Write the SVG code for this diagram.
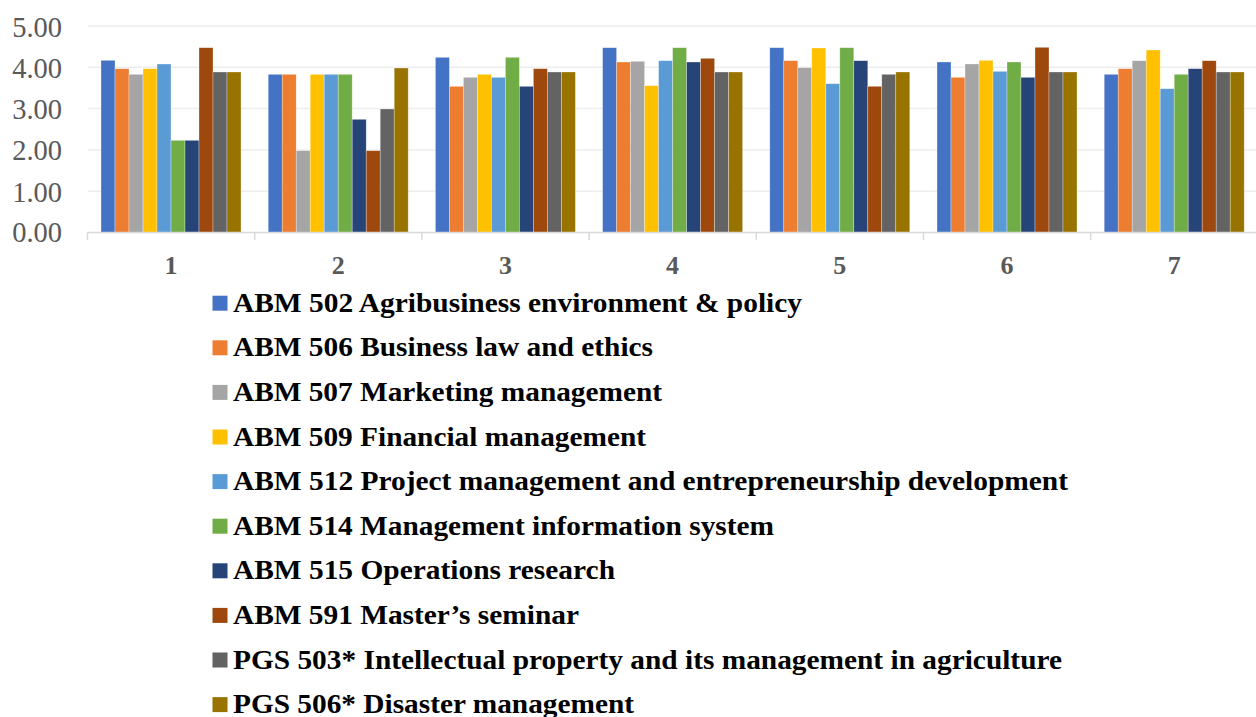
<svg xmlns="http://www.w3.org/2000/svg" width="1256" height="717" viewBox="0 0 1256 717">
<style>
.grid{stroke:#EDEDED;stroke-width:1.5;fill:none}
.axis{stroke:#D9D9D9;stroke-width:1.5;fill:none}
.yl{font-family:"Liberation Serif","Times New Roman",serif;font-size:28.5px;fill:#595959;text-anchor:end}
.xl{font-family:"Liberation Serif","Times New Roman",serif;font-size:26px;font-weight:bold;fill:#595959;text-anchor:middle}
.lg{font-family:"Liberation Serif","Times New Roman",serif;font-size:27px;font-weight:bold;fill:#000}
.bar rect{stroke:#ffffff;stroke-width:0.6;stroke-opacity:0.5}
</style>
<rect width="1256" height="717" fill="#ffffff"/>
<g id="gridlines">
<line class="grid" x1="88" y1="26" x2="1256" y2="26"/>
<line class="grid" x1="88" y1="67.3" x2="1256" y2="67.3"/>
<line class="grid" x1="88" y1="108.6" x2="1256" y2="108.6"/>
<line class="grid" x1="88" y1="149.9" x2="1256" y2="149.9"/>
<line class="grid" x1="88" y1="191.2" x2="1256" y2="191.2"/>
</g>
<g id="y-labels">
<text class="yl" x="62" y="36.5">5.00</text>
<text class="yl" x="62" y="77.8">4.00</text>
<text class="yl" x="62" y="119.1">3.00</text>
<text class="yl" x="62" y="160.4">2.00</text>
<text class="yl" x="62" y="201.7">1.00</text>
<text class="yl" x="62" y="242">0.00</text>
</g>
<g id="series-abm502" class="bar" fill="#4472C4">
<rect x="101" y="60.3" width="14" height="172.2"/>
<rect x="268.2" y="74.3" width="14" height="158.2"/>
<rect x="435.4" y="57.3" width="14" height="175.2"/>
<rect x="602.6" y="47.7" width="14" height="184.8"/>
<rect x="769.8" y="47.7" width="14" height="184.8"/>
<rect x="937" y="62" width="14" height="170.5"/>
<rect x="1104.2" y="74.3" width="14" height="158.2"/>
</g>
<g id="series-abm506" class="bar" fill="#ED7D31">
<rect x="115" y="68.7" width="14" height="163.8"/>
<rect x="282.2" y="74.3" width="14" height="158.2"/>
<rect x="449.4" y="86.3" width="14" height="146.2"/>
<rect x="616.6" y="62" width="14" height="170.5"/>
<rect x="783.8" y="60.7" width="14" height="171.8"/>
<rect x="951" y="77.3" width="14" height="155.2"/>
<rect x="1118.2" y="68.7" width="14" height="163.8"/>
</g>
<g id="series-abm507" class="bar" fill="#A5A5A5">
<rect x="129" y="74.3" width="14" height="158.2"/>
<rect x="296.2" y="150.7" width="14" height="81.8"/>
<rect x="463.4" y="77.3" width="14" height="155.2"/>
<rect x="630.6" y="61.3" width="14" height="171.2"/>
<rect x="797.8" y="67.7" width="14" height="164.8"/>
<rect x="965" y="64" width="14" height="168.5"/>
<rect x="1132.2" y="60.7" width="14" height="171.8"/>
</g>
<g id="series-abm509" class="bar" fill="#FFC000">
<rect x="143" y="68.7" width="14" height="163.8"/>
<rect x="310.2" y="74.3" width="14" height="158.2"/>
<rect x="477.4" y="74.3" width="14" height="158.2"/>
<rect x="644.6" y="85.7" width="14" height="146.8"/>
<rect x="811.8" y="48" width="14" height="184.5"/>
<rect x="979" y="60.3" width="14" height="172.2"/>
<rect x="1146.2" y="50" width="14" height="182.5"/>
</g>
<g id="series-abm512" class="bar" fill="#5B9BD5">
<rect x="157" y="64" width="14" height="168.5"/>
<rect x="324.2" y="74.3" width="14" height="158.2"/>
<rect x="491.4" y="77.3" width="14" height="155.2"/>
<rect x="658.6" y="60.7" width="14" height="171.8"/>
<rect x="825.8" y="83.7" width="14" height="148.8"/>
<rect x="993" y="71.3" width="14" height="161.2"/>
<rect x="1160.2" y="88.7" width="14" height="143.8"/>
</g>
<g id="series-abm514" class="bar" fill="#70AD47">
<rect x="171" y="140.3" width="14" height="92.2"/>
<rect x="338.2" y="74.3" width="14" height="158.2"/>
<rect x="505.4" y="57.3" width="14" height="175.2"/>
<rect x="672.6" y="47.7" width="14" height="184.8"/>
<rect x="839.8" y="47.7" width="14" height="184.8"/>
<rect x="1007" y="62" width="14" height="170.5"/>
<rect x="1174.2" y="74.3" width="14" height="158.2"/>
</g>
<g id="series-abm515" class="bar" fill="#264478">
<rect x="185" y="140.3" width="14" height="92.2"/>
<rect x="352.2" y="119.3" width="14" height="113.2"/>
<rect x="519.4" y="86.3" width="14" height="146.2"/>
<rect x="686.6" y="62" width="14" height="170.5"/>
<rect x="853.8" y="60.7" width="14" height="171.8"/>
<rect x="1021" y="77.3" width="14" height="155.2"/>
<rect x="1188.2" y="68.7" width="14" height="163.8"/>
</g>
<g id="series-abm591" class="bar" fill="#9E480E">
<rect x="199" y="47.7" width="14" height="184.8"/>
<rect x="366.2" y="150.7" width="14" height="81.8"/>
<rect x="533.4" y="68.7" width="14" height="163.8"/>
<rect x="700.6" y="58.3" width="14" height="174.2"/>
<rect x="867.8" y="86.3" width="14" height="146.2"/>
<rect x="1035" y="47.3" width="14" height="185.2"/>
<rect x="1202.2" y="60.7" width="14" height="171.8"/>
</g>
<g id="series-pgs503" class="bar" fill="#636363">
<rect x="213" y="72" width="14" height="160.5"/>
<rect x="380.2" y="109" width="14" height="123.5"/>
<rect x="547.4" y="72" width="14" height="160.5"/>
<rect x="714.6" y="72" width="14" height="160.5"/>
<rect x="881.8" y="74.3" width="14" height="158.2"/>
<rect x="1049" y="72" width="14" height="160.5"/>
<rect x="1216.2" y="72" width="14" height="160.5"/>
</g>
<g id="series-pgs506" class="bar" fill="#997300">
<rect x="227" y="72" width="14" height="160.5"/>
<rect x="394.2" y="68" width="14" height="164.5"/>
<rect x="561.4" y="72" width="14" height="160.5"/>
<rect x="728.6" y="72" width="14" height="160.5"/>
<rect x="895.8" y="72" width="14" height="160.5"/>
<rect x="1063" y="72" width="14" height="160.5"/>
<rect x="1230.2" y="72" width="14" height="160.5"/>
</g>
<g id="x-axis">
<line class="axis" x1="87.5" y1="232.5" x2="1256" y2="232.5"/>
<line class="axis" x1="87.5" y1="232.5" x2="87.5" y2="240"/>
<line class="axis" x1="254.7" y1="232.5" x2="254.7" y2="240"/>
<line class="axis" x1="421.9" y1="232.5" x2="421.9" y2="240"/>
<line class="axis" x1="589.1" y1="232.5" x2="589.1" y2="240"/>
<line class="axis" x1="756.3" y1="232.5" x2="756.3" y2="240"/>
<line class="axis" x1="923.5" y1="232.5" x2="923.5" y2="240"/>
<line class="axis" x1="1090.7" y1="232.5" x2="1090.7" y2="240"/>
</g>
<g id="x-labels">
<text class="xl" x="171" y="273.5">1</text>
<text class="xl" x="338.2" y="273.5">2</text>
<text class="xl" x="505.4" y="273.5">3</text>
<text class="xl" x="672.6" y="273.5">4</text>
<text class="xl" x="839.8" y="273.5">5</text>
<text class="xl" x="1007" y="273.5">6</text>
<text class="xl" x="1174.2" y="273.5">7</text>
</g>
<g id="legend">
<rect x="212.5" y="295.7" width="15" height="15" fill="#4472C4"/>
<text class="lg" x="233" y="311.7" textLength="569" lengthAdjust="spacingAndGlyphs">ABM 502 Agribusiness environment &amp; policy</text>
<rect x="212.5" y="340.3" width="15" height="15" fill="#ED7D31"/>
<text class="lg" x="233" y="356.3" textLength="420" lengthAdjust="spacingAndGlyphs">ABM 506 Business law and ethics</text>
<rect x="212.5" y="384.9" width="15" height="15" fill="#A5A5A5"/>
<text class="lg" x="233" y="400.9" textLength="429" lengthAdjust="spacingAndGlyphs">ABM 507 Marketing management</text>
<rect x="212.5" y="429.5" width="15" height="15" fill="#FFC000"/>
<text class="lg" x="233" y="445.5" textLength="413" lengthAdjust="spacingAndGlyphs">ABM 509 Financial management</text>
<rect x="212.5" y="474.1" width="15" height="15" fill="#5B9BD5"/>
<text class="lg" x="233" y="490.1" textLength="835" lengthAdjust="spacingAndGlyphs">ABM 512 Project management and entrepreneurship development</text>
<rect x="212.5" y="518.7" width="15" height="15" fill="#70AD47"/>
<text class="lg" x="233" y="534.7" textLength="541" lengthAdjust="spacingAndGlyphs">ABM 514 Management information system</text>
<rect x="212.5" y="563.3" width="15" height="15" fill="#264478"/>
<text class="lg" x="233" y="579.3" textLength="382" lengthAdjust="spacingAndGlyphs">ABM 515 Operations research</text>
<rect x="212.5" y="607.9" width="15" height="15" fill="#9E480E"/>
<text class="lg" x="233" y="623.9" textLength="346" lengthAdjust="spacingAndGlyphs">ABM 591 Master’s seminar</text>
<rect x="212.5" y="652.5" width="15" height="15" fill="#636363"/>
<text class="lg" x="233" y="668.5" textLength="829" lengthAdjust="spacingAndGlyphs">PGS 503* Intellectual property and its management in agriculture</text>
<rect x="212.5" y="697.1" width="15" height="15" fill="#997300"/>
<text class="lg" x="233" y="713.1" textLength="401" lengthAdjust="spacingAndGlyphs">PGS 506* Disaster management</text>
</g>
</svg>
